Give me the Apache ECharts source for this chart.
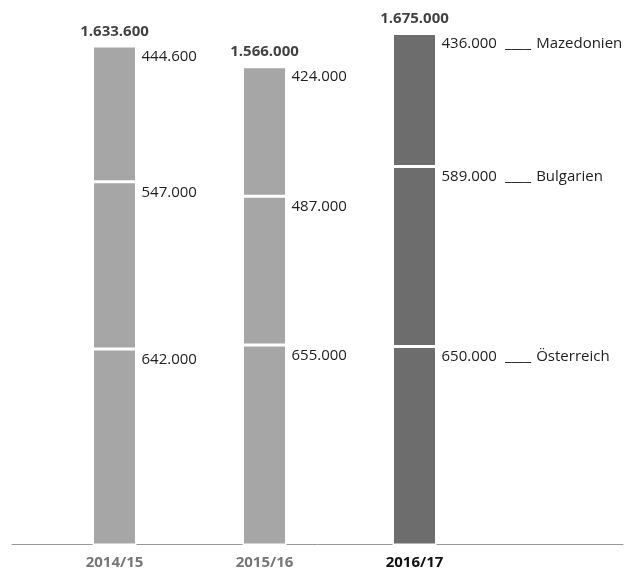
<!DOCTYPE html>
<html>
<head>
<meta charset="utf-8">
<script src="https://cdn.jsdelivr.net/npm/echarts@6/dist/echarts.min.js"></script>
<style>
  html, body { margin: 0; padding: 0; background: #fff; }
  #chart { width: 633px; height: 570px; }
</style>
</head>
<body>
<div id="chart"></div>
<script>
// Seasons on the category axis
const categories = ['2014/15', '2015/16', '2016/17'];
// Stacked from the bottom up
const seriesNames = ['Österreich', 'Bulgarien', 'Mazedonien'];
const oesterreich = [642000, 655000, 650000];
const bulgarien = [547000, 487000, 589000];
const mazedonien = [444600, 424000, 436000];

const stackValues = [oesterreich, bulgarien, mazedonien];
const totals = categories.map((_, i) => stackValues.reduce((s, arr) => s + arr[i], 0));

const FONT = 'Open Sans';
const barColors = ['#a6a6a6', '#a6a6a6', '#6d6d6d'];
const axisLabelColors = ['#777777', '#777777', '#111111'];
const lastIdx = categories.length - 1;

// German thousands separator
function fmt(v) {
  return String(Math.round(v)).replace(/\B(?=(\d{3})+(?!\d))/g, '.');
}

const chart = echarts.init(document.getElementById('chart'));

const barSeries = stackValues.map((values, si) => ({
  name: seriesNames[si],
  type: 'bar',
  stack: 'total',
  barWidth: 44,
  xAxisIndex: 0,
  yAxisIndex: 0,
  data: values.map((v, i) => ({
    value: v,
    itemStyle: { color: barColors[i] }
  })),
  itemStyle: { borderColor: '#ffffff', borderWidth: 1.5 },
  label: {
    show: true,
    position: ['100%', 0],
    align: 'left',
    verticalAlign: 'top',
    offset: [5, 3],
    fontFamily: FONT,
    fontSize: 15,
    color: '#222',
    formatter: p => p.dataIndex === lastIdx
      ? '{v|' + fmt(p.value) + '}{ln|____}{n|' + seriesNames[si] + '}'
      : fmt(p.value),
    rich: {
      v: { fontFamily: FONT, fontSize: 15, color: '#222' },
      ln: { fontFamily: FONT, fontSize: 15, color: '#111', padding: [0, 5, 0, 8] },
      n: { fontFamily: FONT, fontSize: 15, color: '#222' }
    }
  },
  emphasis: { disabled: true },
  z: 3
}));

const totalSeries = {
  name: 'Gesamt',
  type: 'scatter',
  xAxisIndex: 0,
  yAxisIndex: 0,
  symbolSize: 0,
  data: totals,
  label: {
    show: true,
    position: 'top',
    distance: 7,
    fontFamily: FONT,
    fontSize: 15,
    fontWeight: 'bold',
    color: '#111',
    formatter: p => fmt(p.value)
  },
  emphasis: { disabled: true },
  z: 4
};

chart.setOption({
  animation: false,
  backgroundColor: '#ffffff',
  grid: [
    { left: 39.5, width: 450, top: 10.5, bottom: 23.5 },
    { left: 12, right: 10, top: 10.5, bottom: 26 }
  ],
  xAxis: [
    {
      type: 'category',
      gridIndex: 0,
      data: categories.map((c, i) => ({
        value: c,
        textStyle: { color: axisLabelColors[i] }
      })),
      axisLine: { show: false },
      axisTick: { show: false },
      axisLabel: {
        margin: 10,
        fontFamily: FONT,
        fontSize: 15,
        fontWeight: 'bold'
      }
    },
    {
      type: 'value',
      gridIndex: 1,
      min: 0,
      max: 1,
      axisLine: { show: true, lineStyle: { color: '#999999', width: 1 } },
      axisTick: { show: false },
      axisLabel: { show: false },
      splitLine: { show: false }
    }
  ],
  yAxis: [
    { type: 'value', gridIndex: 0, min: 0, max: 1750000, show: false, splitLine: { show: false } },
    { type: 'value', gridIndex: 1, min: 0, max: 1, show: false, splitLine: { show: false } }
  ],
  series: [...barSeries, totalSeries]
});
</script>
</body>
</html>
